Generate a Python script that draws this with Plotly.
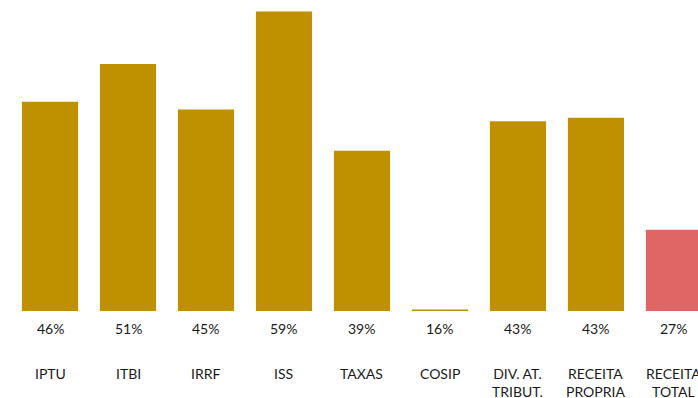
import plotly.graph_objects as go

categories = ["IPTU", "ITBI", "IRRF", "ISS", "TAXAS", "COSIP", "DIV. AT.<br>TRIBUT.", "RECEITA<br>PROPRIA", "RECEITA<br>TOTAL"]
values = [45.7, 51.1, 44.6, 58.6, 38.7, 16.0, 42.9, 43.4, 27.4]
labels = ["46%", "51%", "45%", "59%", "39%", "16%", "43%", "43%", "27%"]
colors = ["#BF9000"] * 8 + ["#E06666"]

x = list(range(len(categories)))
fig = go.Figure(go.Bar(x=x, y=values, marker_color=colors, marker_line_width=0, hoverinfo="skip"))

font = dict(family="Lato, Open Sans, sans-serif", size=14, color="#1a1a1a")
annotations = []
for i, (c, l) in enumerate(zip(categories, labels)):
    annotations.append(dict(x=i, y=0, xref="x", yref="paper", text=l, showarrow=False,
                            yanchor="middle", yshift=-17, font=font))
    annotations.append(dict(x=i, y=0, xref="x", yref="paper", text=c, showarrow=False,
                            yanchor="top", yshift=-52, font=font))

fig.update_layout(
    width=698, height=398,
    margin=dict(l=11, r=0, t=0, b=87),
    paper_bgcolor="white", plot_bgcolor="white",
    bargap=0.28,
    showlegend=False,
    xaxis=dict(range=[-0.5, 8.308], showticklabels=False, showgrid=False, zeroline=False, showline=False, ticks=""),
    yaxis=dict(range=[15.8, 60.23], showticklabels=False, showgrid=False, zeroline=False, showline=False, ticks=""),
    annotations=annotations,
)
fig.write_html("out.html")
